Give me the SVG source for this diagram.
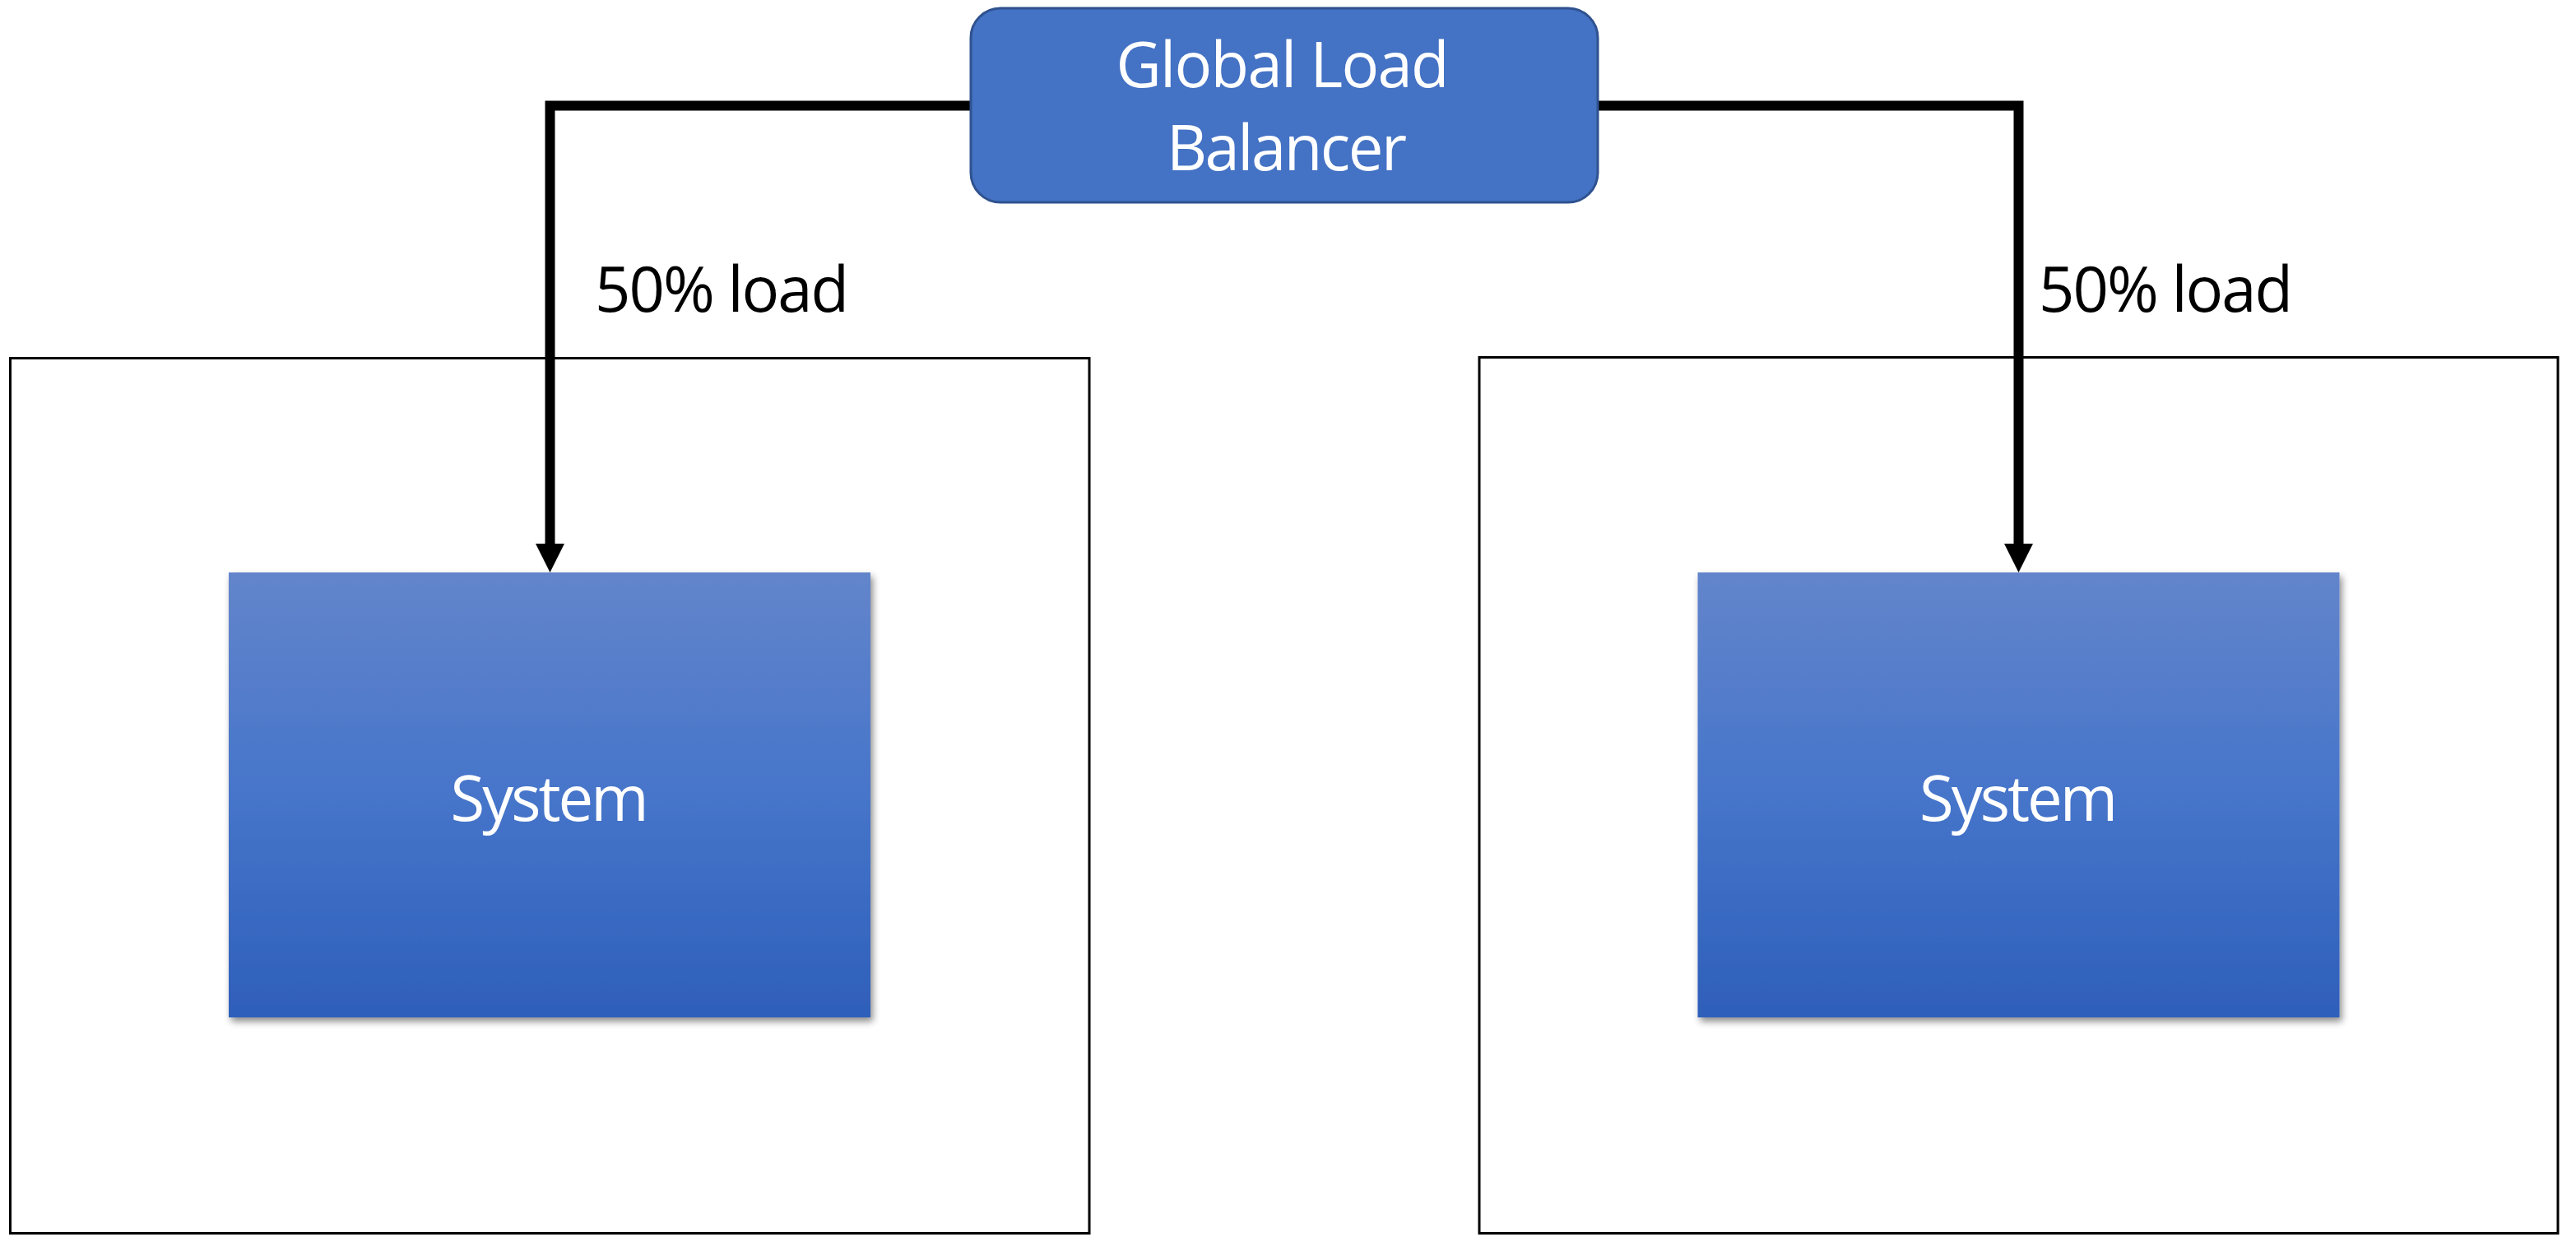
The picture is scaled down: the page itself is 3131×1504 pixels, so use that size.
<svg xmlns="http://www.w3.org/2000/svg" width="3131" height="1504" viewBox="0 0 3131 1504">
  <defs>
    <linearGradient id="sysFill" x1="0" y1="0" x2="0" y2="1">
      <stop offset="0" stop-color="#6385CB"/>
      <stop offset="0.5" stop-color="#4675CA"/>
      <stop offset="1" stop-color="#2E5FBA"/>
    </linearGradient>
    <filter id="softShadow" x="-5%" y="-5%" width="115%" height="115%">
      <feDropShadow dx="3" dy="5" stdDeviation="4" flood-color="#000" flood-opacity="0.45"/>
    </filter>
    <marker id="arrowHead" markerUnits="userSpaceOnUse" markerWidth="36" markerHeight="36" refX="19" refY="17.5" orient="auto">
      <path d="M0,0 L35,17.5 L0,35 z" fill="#000"/>
    </marker>
  </defs>
  <style>
    .zone { fill: #fff; stroke: #000; stroke-width: 3; }
    .system { fill: url(#sysFill); filter: url(#softShadow); }
    .lb { fill: #4472C4; stroke: #2F528F; stroke-width: 3; }
    .link { fill: none; stroke: #000; stroke-width: 12; stroke-linejoin: miter; marker-end: url(#arrowHead); }
    .white { fill: #fff; font-family: "Open Sans", "Liberation Sans", sans-serif; font-size: 76px; text-anchor: middle; }
    .label { fill: #000; font-family: "Open Sans", "Liberation Sans", sans-serif; font-size: 76px; }
  </style>

  <rect width="3131" height="1504" fill="#fff"/>

  <!-- regions holding each system -->
  <g id="zone-left">
    <rect class="zone" x="12.5" y="435.5" width="1311.5" height="1064"/>
  </g>
  <g id="zone-right">
    <rect class="zone" x="1798" y="434.5" width="1311" height="1065"/>
  </g>

  <!-- traffic split from the balancer -->
  <g id="connectors">
    <path class="link" d="M1185,128.5 H668.5 V680"/>
    <path class="link" d="M1937,128.5 H2453.5 V680"/>
    <text class="label" x="723" y="379" textLength="309">50% load</text>
    <text class="label" x="2478" y="379" textLength="309">50% load</text>
  </g>

  <g id="system-left">
    <rect class="system" x="278" y="696" width="780" height="541"/>
    <text class="white" x="668" y="998" textLength="241">System</text>
  </g>
  <g id="system-right">
    <rect class="system" x="2063.5" y="696" width="780" height="541"/>
    <text class="white" x="2453.5" y="998" textLength="241">System</text>
  </g>

  <g id="global-load-balancer">
    <rect class="lb" x="1180" y="10" width="762" height="236" rx="36" ry="36"/>
    <text class="white" x="1559" y="106" textLength="405">Global Load</text>
    <text class="white" x="1564" y="207" textLength="292">Balancer</text>
  </g>
</svg>
